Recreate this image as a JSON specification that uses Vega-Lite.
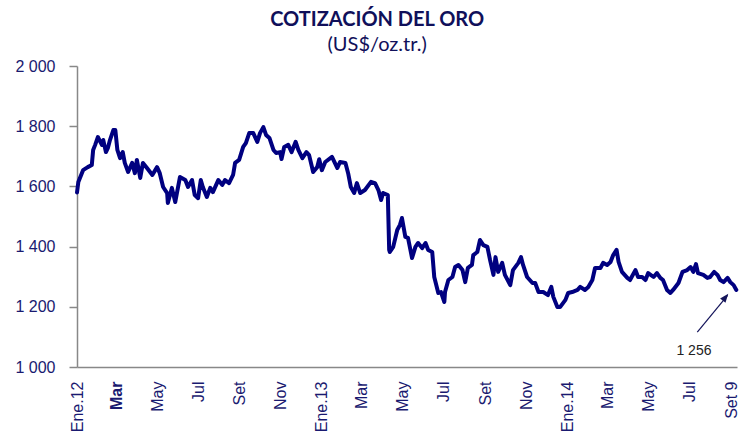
{
  "$schema": "https://vega.github.io/schema/vega-lite/v6.json",
  "width": 660,
  "height": 301,
  "autosize": "none",
  "padding": {"left": 77, "top": 66, "right": 2, "bottom": 65},
  "background": "white",
  "title": {
    "text": "COTIZACIÓN DEL ORO",
    "subtitle": "(US$/oz.tr.)",
    "font": "Lato",
    "fontSize": 20,
    "fontWeight": "bold",
    "color": "#10105a",
    "subtitleFont": "Lato",
    "subtitleFontSize": 20,
    "subtitleColor": "#10105a",
    "subtitlePadding": 5,
    "anchor": "middle",
    "frame": "bounds",
    "offset": 3
  },
  "config": {"view": {"stroke": null}},
  "encoding": {
    "x": {
      "field": "fecha",
      "type": "temporal",
      "scale": {"domain": [{"year": 2012, "month": 1, "date": 3}, {"year": 2014, "month": 9, "date": 10}]},
      "axis": {
        "title": null,
        "grid": false,
        "ticks": false,
        "tickSize": 0,
        "domainColor": "#888888",
        "domainWidth": 1.5,
        "labelPadding": 14,
        "labelAngle": -90,
        "labelFont": "Liberation Sans",
        "labelFontSize": 16,
        "labelColor": "#1a1a70",
        "labelOverlap": false,
        "labelBound": false,
        "labelFlush": false,
        "labelOffset": {"condition": {"test": "year(datum.value)==2014 && month(datum.value)==8", "value": -5}, "value": 0},
        "labelFontWeight": {"condition": {"test": "year(datum.value)==2012 && month(datum.value)==2", "value": "bold"}, "value": "normal"},
        "values": [
          {"year": 2012, "month": 1, "date": 3},
          {"year": 2012, "month": 3, "date": 1},
          {"year": 2012, "month": 5, "date": 1},
          {"year": 2012, "month": 7, "date": 1},
          {"year": 2012, "month": 9, "date": 1},
          {"year": 2012, "month": 11, "date": 1},
          {"year": 2013, "month": 1, "date": 1},
          {"year": 2013, "month": 3, "date": 1},
          {"year": 2013, "month": 5, "date": 1},
          {"year": 2013, "month": 7, "date": 1},
          {"year": 2013, "month": 9, "date": 1},
          {"year": 2013, "month": 11, "date": 1},
          {"year": 2014, "month": 1, "date": 1},
          {"year": 2014, "month": 3, "date": 1},
          {"year": 2014, "month": 5, "date": 1},
          {"year": 2014, "month": 7, "date": 1},
          {"year": 2014, "month": 9, "date": 9}
        ],
        "labelExpr": "month(datum.value)==0 ? 'Ene.' + timeFormat(datum.value,'%y') : (date(datum.value)==9 ? 'Set 9' : ['Ene','Feb','Mar','Abr','May','Jun','Jul','Ago','Set','Oct','Nov','Dic'][month(datum.value)])"
      }
    },
    "y": {
      "field": "precio",
      "type": "quantitative",
      "scale": {"domain": [1000, 2000], "nice": false, "zero": false},
      "axis": {
        "title": null,
        "grid": false,
        "values": [1000, 1200, 1400, 1600, 1800, 2000],
        "tickSize": 8,
        "tickColor": "#888888",
        "tickWidth": 1.5,
        "domainColor": "#888888",
        "domainWidth": 1.5,
        "labelPadding": 14,
        "labelFont": "Liberation Sans",
        "labelFontSize": 16,
        "labelColor": "#1a1a70",
        "labelExpr": "replace(format(datum.value, ','), ',', ' ')"
      }
    }
  },
  "layer": [
    {
      "data": {"values": [
        {"fecha": "2012/01/03", "precio": 1580},
        {"fecha": "2012/01/05", "precio": 1615},
        {"fecha": "2012/01/12", "precio": 1654},
        {"fecha": "2012/01/19", "precio": 1664},
        {"fecha": "2012/01/25", "precio": 1671},
        {"fecha": "2012/01/27", "precio": 1721},
        {"fecha": "2012/01/30", "precio": 1738},
        {"fecha": "2012/02/03", "precio": 1764},
        {"fecha": "2012/02/09", "precio": 1738},
        {"fecha": "2012/02/11", "precio": 1754},
        {"fecha": "2012/02/15", "precio": 1714},
        {"fecha": "2012/02/18", "precio": 1728},
        {"fecha": "2012/02/21", "precio": 1754},
        {"fecha": "2012/02/26", "precio": 1787},
        {"fecha": "2012/02/29", "precio": 1787},
        {"fecha": "2012/03/03", "precio": 1721},
        {"fecha": "2012/03/07", "precio": 1694},
        {"fecha": "2012/03/11", "precio": 1714},
        {"fecha": "2012/03/14", "precio": 1678},
        {"fecha": "2012/03/19", "precio": 1648},
        {"fecha": "2012/03/25", "precio": 1678},
        {"fecha": "2012/03/29", "precio": 1644},
        {"fecha": "2012/04/01", "precio": 1688},
        {"fecha": "2012/04/06", "precio": 1628},
        {"fecha": "2012/04/10", "precio": 1678},
        {"fecha": "2012/04/16", "precio": 1661},
        {"fecha": "2012/04/24", "precio": 1638},
        {"fecha": "2012/05/01", "precio": 1664},
        {"fecha": "2012/05/05", "precio": 1644},
        {"fecha": "2012/05/10", "precio": 1598},
        {"fecha": "2012/05/16", "precio": 1578},
        {"fecha": "2012/05/17", "precio": 1545},
        {"fecha": "2012/05/23", "precio": 1595},
        {"fecha": "2012/05/28", "precio": 1548},
        {"fecha": "2012/06/04", "precio": 1631},
        {"fecha": "2012/06/12", "precio": 1621},
        {"fecha": "2012/06/16", "precio": 1598},
        {"fecha": "2012/06/22", "precio": 1621},
        {"fecha": "2012/06/26", "precio": 1571},
        {"fecha": "2012/07/01", "precio": 1561},
        {"fecha": "2012/07/05", "precio": 1621},
        {"fecha": "2012/07/08", "precio": 1598},
        {"fecha": "2012/07/14", "precio": 1565},
        {"fecha": "2012/07/19", "precio": 1595},
        {"fecha": "2012/07/23", "precio": 1581},
        {"fecha": "2012/07/31", "precio": 1621},
        {"fecha": "2012/08/06", "precio": 1605},
        {"fecha": "2012/08/10", "precio": 1621},
        {"fecha": "2012/08/16", "precio": 1611},
        {"fecha": "2012/08/22", "precio": 1638},
        {"fecha": "2012/08/25", "precio": 1678},
        {"fecha": "2012/08/31", "precio": 1688},
        {"fecha": "2012/09/06", "precio": 1731},
        {"fecha": "2012/09/10", "precio": 1744},
        {"fecha": "2012/09/15", "precio": 1777},
        {"fecha": "2012/09/21", "precio": 1777},
        {"fecha": "2012/09/27", "precio": 1748},
        {"fecha": "2012/10/01", "precio": 1777},
        {"fecha": "2012/10/06", "precio": 1797},
        {"fecha": "2012/10/10", "precio": 1771},
        {"fecha": "2012/10/15", "precio": 1761},
        {"fecha": "2012/10/21", "precio": 1721},
        {"fecha": "2012/10/25", "precio": 1711},
        {"fecha": "2012/10/31", "precio": 1714},
        {"fecha": "2012/11/02", "precio": 1691},
        {"fecha": "2012/11/06", "precio": 1731},
        {"fecha": "2012/11/12", "precio": 1738},
        {"fecha": "2012/11/17", "precio": 1714},
        {"fecha": "2012/11/23", "precio": 1748},
        {"fecha": "2012/11/27", "precio": 1721},
        {"fecha": "2012/12/03", "precio": 1694},
        {"fecha": "2012/12/09", "precio": 1714},
        {"fecha": "2012/12/13", "precio": 1704},
        {"fecha": "2012/12/19", "precio": 1648},
        {"fecha": "2012/12/25", "precio": 1664},
        {"fecha": "2012/12/28", "precio": 1690},
        {"fecha": "2013/01/01", "precio": 1654},
        {"fecha": "2013/01/06", "precio": 1681},
        {"fecha": "2013/01/16", "precio": 1698},
        {"fecha": "2013/01/24", "precio": 1661},
        {"fecha": "2013/01/28", "precio": 1681},
        {"fecha": "2013/02/05", "precio": 1678},
        {"fecha": "2013/02/09", "precio": 1644},
        {"fecha": "2013/02/13", "precio": 1598},
        {"fecha": "2013/02/18", "precio": 1578},
        {"fecha": "2013/02/22", "precio": 1611},
        {"fecha": "2013/02/27", "precio": 1578},
        {"fecha": "2013/03/06", "precio": 1588},
        {"fecha": "2013/03/15", "precio": 1615},
        {"fecha": "2013/03/21", "precio": 1611},
        {"fecha": "2013/03/26", "precio": 1588},
        {"fecha": "2013/03/30", "precio": 1555},
        {"fecha": "2013/04/02", "precio": 1578},
        {"fecha": "2013/04/09", "precio": 1571},
        {"fecha": "2013/04/11", "precio": 1389},
        {"fecha": "2013/04/12", "precio": 1382},
        {"fecha": "2013/04/17", "precio": 1399},
        {"fecha": "2013/04/23", "precio": 1455},
        {"fecha": "2013/04/27", "precio": 1472},
        {"fecha": "2013/04/30", "precio": 1495},
        {"fecha": "2013/05/05", "precio": 1432},
        {"fecha": "2013/05/09", "precio": 1429},
        {"fecha": "2013/05/15", "precio": 1362},
        {"fecha": "2013/05/20", "precio": 1399},
        {"fecha": "2013/05/24", "precio": 1412},
        {"fecha": "2013/05/30", "precio": 1395},
        {"fecha": "2013/06/04", "precio": 1412},
        {"fecha": "2013/06/08", "precio": 1389},
        {"fecha": "2013/06/14", "precio": 1382},
        {"fecha": "2013/06/17", "precio": 1299},
        {"fecha": "2013/06/23", "precio": 1246},
        {"fecha": "2013/06/27", "precio": 1249},
        {"fecha": "2013/07/02", "precio": 1216},
        {"fecha": "2013/07/03", "precio": 1249},
        {"fecha": "2013/07/08", "precio": 1289},
        {"fecha": "2013/07/14", "precio": 1299},
        {"fecha": "2013/07/18", "precio": 1332},
        {"fecha": "2013/07/23", "precio": 1339},
        {"fecha": "2013/07/29", "precio": 1322},
        {"fecha": "2013/08/02", "precio": 1282},
        {"fecha": "2013/08/06", "precio": 1329},
        {"fecha": "2013/08/12", "precio": 1339},
        {"fecha": "2013/08/14", "precio": 1372},
        {"fecha": "2013/08/20", "precio": 1382},
        {"fecha": "2013/08/24", "precio": 1422},
        {"fecha": "2013/08/29", "precio": 1405},
        {"fecha": "2013/09/04", "precio": 1399},
        {"fecha": "2013/09/08", "precio": 1355},
        {"fecha": "2013/09/13", "precio": 1306},
        {"fecha": "2013/09/16", "precio": 1365},
        {"fecha": "2013/09/20", "precio": 1316},
        {"fecha": "2013/09/26", "precio": 1346},
        {"fecha": "2013/09/30", "precio": 1306},
        {"fecha": "2013/10/08", "precio": 1272},
        {"fecha": "2013/10/12", "precio": 1322},
        {"fecha": "2013/10/20", "precio": 1346},
        {"fecha": "2013/10/24", "precio": 1365},
        {"fecha": "2013/10/27", "precio": 1339},
        {"fecha": "2013/11/02", "precio": 1299},
        {"fecha": "2013/11/10", "precio": 1279},
        {"fecha": "2013/11/14", "precio": 1279},
        {"fecha": "2013/11/19", "precio": 1249},
        {"fecha": "2013/11/26", "precio": 1249},
        {"fecha": "2013/12/03", "precio": 1239},
        {"fecha": "2013/12/08", "precio": 1266},
        {"fecha": "2013/12/11", "precio": 1233},
        {"fecha": "2013/12/17", "precio": 1199},
        {"fecha": "2013/12/21", "precio": 1199},
        {"fecha": "2013/12/29", "precio": 1223},
        {"fecha": "2014/01/02", "precio": 1246},
        {"fecha": "2014/01/08", "precio": 1249},
        {"fecha": "2014/01/16", "precio": 1256},
        {"fecha": "2014/01/20", "precio": 1266},
        {"fecha": "2014/01/27", "precio": 1256},
        {"fecha": "2014/02/01", "precio": 1266},
        {"fecha": "2014/02/07", "precio": 1289},
        {"fecha": "2014/02/11", "precio": 1329},
        {"fecha": "2014/02/19", "precio": 1329},
        {"fecha": "2014/02/23", "precio": 1346},
        {"fecha": "2014/03/01", "precio": 1339},
        {"fecha": "2014/03/06", "precio": 1349},
        {"fecha": "2014/03/10", "precio": 1372},
        {"fecha": "2014/03/15", "precio": 1389},
        {"fecha": "2014/03/18", "precio": 1349},
        {"fecha": "2014/03/23", "precio": 1316},
        {"fecha": "2014/03/31", "precio": 1296},
        {"fecha": "2014/04/04", "precio": 1289},
        {"fecha": "2014/04/12", "precio": 1322},
        {"fecha": "2014/04/16", "precio": 1299},
        {"fecha": "2014/04/22", "precio": 1299},
        {"fecha": "2014/04/27", "precio": 1289},
        {"fecha": "2014/05/01", "precio": 1312},
        {"fecha": "2014/05/09", "precio": 1299},
        {"fecha": "2014/05/14", "precio": 1312},
        {"fecha": "2014/05/19", "precio": 1296},
        {"fecha": "2014/05/23", "precio": 1289},
        {"fecha": "2014/05/29", "precio": 1256},
        {"fecha": "2014/06/03", "precio": 1246},
        {"fecha": "2014/06/07", "precio": 1256},
        {"fecha": "2014/06/15", "precio": 1279},
        {"fecha": "2014/06/21", "precio": 1316},
        {"fecha": "2014/06/28", "precio": 1322},
        {"fecha": "2014/07/03", "precio": 1332},
        {"fecha": "2014/07/07", "precio": 1316},
        {"fecha": "2014/07/11", "precio": 1342},
        {"fecha": "2014/07/14", "precio": 1312},
        {"fecha": "2014/07/22", "precio": 1306},
        {"fecha": "2014/07/28", "precio": 1296},
        {"fecha": "2014/08/01", "precio": 1299},
        {"fecha": "2014/08/07", "precio": 1316},
        {"fecha": "2014/08/12", "precio": 1306},
        {"fecha": "2014/08/16", "precio": 1289},
        {"fecha": "2014/08/21", "precio": 1282},
        {"fecha": "2014/08/27", "precio": 1296},
        {"fecha": "2014/08/31", "precio": 1282},
        {"fecha": "2014/09/05", "precio": 1272},
        {"fecha": "2014/09/09", "precio": 1256}
      ]},
      "mark": {"type": "line", "color": "#000080", "strokeWidth": 4, "strokeJoin": "round", "strokeCap": "round"}
    },
    {
      "data": {"values": [
        {"fecha": "2014/07/13", "precio": 1116},
        {"fecha": "2014/08/27", "precio": 1238}
      ]},
      "mark": {"type": "line", "color": "#14145a", "strokeWidth": 1.2}
    },
    {
      "data": {"values": [
        {"fecha": "2014/08/28", "precio": 1243}
      ]},
      "mark": {"type": "point", "shape": "M0,0L-0.4,1L0.4,1Z", "filled": true, "color": "#14145a", "opacity": 1, "size": 300, "angle": 39}
    },
    {
      "data": {"values": [
        {"fecha": "2014/07/08", "precio": 1052, "etiqueta": "1 256"}
      ]},
      "mark": {"type": "text", "font": "Liberation Sans", "fontSize": 14, "color": "#222222", "align": "center", "baseline": "middle"},
      "encoding": {"text": {"field": "etiqueta"}}
    }
  ]
}
